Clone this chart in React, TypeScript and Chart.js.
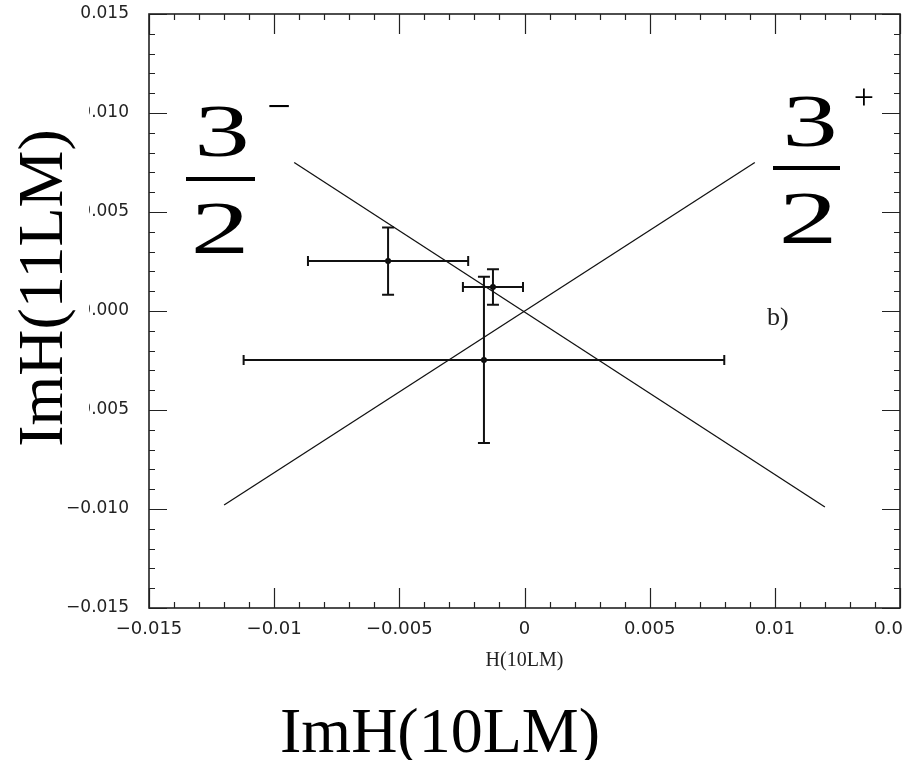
import React, { useEffect, useRef } from 'react';
import { Chart, registerables } from 'chart.js';

Chart.register(...registerables);

// ---- data ----
const pointX = [-0.00545, -0.00126, -0.00162];
const pointY = [0.00252, 0.00121, -0.00247];
const errX = [0.0032, 0.0012, 0.0096];
const errY = [0.0017, 0.0009, 0.0042];

// 3/2- band line (descending) and 3/2+ band line (ascending)
const lineMinusX = [-0.0092, 0.012];
const lineMinusY = [0.0075, -0.0099];
const linePlusX = [-0.012, 0.0092];
const linePlusY = [-0.0098, 0.0075];

const xTickValues = [-0.015, -0.01, -0.005, 0, 0.005, 0.01, 0.015];
const xTickLabels = ['\u22120.015', '\u22120.01', '\u22120.005', '0', '0.005', '0.01', '0.015'];
const yTickValues = [-0.015, -0.01, -0.005, 0, 0.005, 0.01, 0.015];
const yTickLabels = ['\u22120.015', '\u22120.010', '\u22120.005', '0.000', '0.005', '0.010', '0.015'];

const xAxisTitle = 'H(10LM)';
const bigXLabel = 'ImH(10LM)';
const bigYLabel = 'ImH(11LM)';
const panelLabel = 'b)';

const AXIS_MIN = -0.015;
const AXIS_MAX = 0.015;
const STEP = 0.001;

const isMajor = (v: number) => Math.round(v * 1000) % 5 === 0;

function labelFor(values: number[], labels: string[], v: number) {
  const k = Math.round(v * 1000);
  if (k % 5 !== 0) return '';
  const idx = values.findIndex((t) => Math.round(t * 1000) === k);
  return idx >= 0 ? labels[idx] : '';
}

const errorBarPlugin = {
  id: 'errorBars',
  afterDatasetsDraw(chart: any) {
    const { ctx, scales } = chart;
    const xs = scales.x;
    const ys = scales.y;
    ctx.save();
    ctx.strokeStyle = '#111';
    ctx.lineWidth = 2;
    for (let i = 0; i < pointX.length; i++) {
      const cx = xs.getPixelForValue(pointX[i]);
      const cy = ys.getPixelForValue(pointY[i]);
      const x0 = xs.getPixelForValue(pointX[i] - errX[i]);
      const x1 = xs.getPixelForValue(pointX[i] + errX[i]);
      const y0 = ys.getPixelForValue(pointY[i] + errY[i]);
      const y1 = ys.getPixelForValue(pointY[i] - errY[i]);
      ctx.beginPath();
      ctx.moveTo(x0, cy); ctx.lineTo(x1, cy);
      ctx.moveTo(x0, cy - 5); ctx.lineTo(x0, cy + 5);
      ctx.moveTo(x1, cy - 5); ctx.lineTo(x1, cy + 5);
      ctx.moveTo(cx, y0); ctx.lineTo(cx, y1);
      ctx.moveTo(cx - 6, y0); ctx.lineTo(cx + 6, y0);
      ctx.moveTo(cx - 6, y1); ctx.lineTo(cx + 6, y1);
      ctx.stroke();
    }
    ctx.restore();
  },
};

const framePlugin = {
  id: 'frameAndText',
  afterDraw(chart: any) {
    const { ctx, chartArea: a, scales } = chart;
    const xs = scales.x;
    const ys = scales.y;
    ctx.save();
    ctx.strokeStyle = '#222';
    ctx.lineWidth = 1.2;
    ctx.beginPath();
    xs.ticks.forEach((t: any) => {
      const px = Math.round(xs.getPixelForValue(t.value)) + 0.5;
      const len = isMajor(t.value) ? 20 : 6;
      ctx.moveTo(px, a.bottom); ctx.lineTo(px, a.bottom - len);
      ctx.moveTo(px, a.top); ctx.lineTo(px, a.top + len);
    });
    ys.ticks.forEach((t: any) => {
      const py = Math.round(ys.getPixelForValue(t.value)) + 0.5;
      const len = isMajor(t.value) ? 18 : 6;
      ctx.moveTo(a.left, py); ctx.lineTo(a.left + len, py);
      ctx.moveTo(a.right, py); ctx.lineTo(a.right - len, py);
    });
    ctx.stroke();
    ctx.lineWidth = 1.6;
    ctx.strokeRect(a.left, a.top, a.right - a.left, a.bottom - a.top);

    // the scan is cut just right of the frame: hide the tail of the last x label
    ctx.fillStyle = '#fff';
    ctx.fillRect(a.right + 2, a.bottom + 6, 20, 40);

    // panel label
    ctx.fillStyle = '#222';
    ctx.font = '26px "Liberation Serif"';
    ctx.textAlign = 'left';
    ctx.textBaseline = 'alphabetic';
    ctx.fillText(panelLabel, 767, 325);

    // overlay box of the big y label (hides left part of tick labels)
    ctx.fillStyle = '#fff';
    ctx.fillRect(0, 40, 89, 440);

    ctx.fillStyle = '#000';
    ctx.font = '64px "Liberation Serif"';
    ctx.textAlign = 'center';
    ctx.textBaseline = 'alphabetic';
    ctx.fillText(bigXLabel, 440, 752);

    ctx.save();
    ctx.translate(62, 288);
    ctx.rotate(-Math.PI / 2);
    ctx.fillText(bigYLabel, 0, 0);
    ctx.restore();

    // fraction labels 3/2- and 3/2+
    const drawFrac = (cx: number, base3: number, barY: number, base2: number, barL: number, barR: number, sup: string, supX: number, supY: number, supSize: number) => {
      ctx.save();
      ctx.font = '74px "Liberation Serif"';
      ctx.textAlign = 'center';
      ctx.save();
      ctx.translate(cx, base3);
      ctx.scale(1.5, 1);
      ctx.fillText('3', 0, 0);
      ctx.restore();
      ctx.save();
      ctx.translate(cx - 2, base2);
      ctx.scale(1.6, 1);
      ctx.fillText('2', 0, 0);
      ctx.restore();
      ctx.fillRect(barL, barY - 2, barR - barL, 4);
      ctx.font = supSize + 'px "Liberation Serif"';
      ctx.textBaseline = 'middle';
      ctx.fillText(sup, supX, supY);
      ctx.restore();
    };
    drawFrac(222, 156, 179, 253, 186, 255, '\u2212', 279, 109, 42);
    drawFrac(810, 146, 168, 243, 773, 840, '+', 864, 100, 36);
    ctx.restore();
  },
};

export default function App() {
  const ref = useRef<HTMLCanvasElement | null>(null);
  useEffect(() => {
    if (!ref.current) return;
    const tickFont = { family: '"DejaVu Sans"', size: 17 };
    const chart = new Chart(ref.current, {
      type: 'scatter',
      data: {
        datasets: [
          {
            label: '3/2-',
            data: lineMinusX.map((x, i) => ({ x, y: lineMinusY[i] })),
            showLine: true,
            borderColor: '#111',
            borderWidth: 1.3,
            pointRadius: 0,
          },
          {
            label: '3/2+',
            data: linePlusX.map((x, i) => ({ x, y: linePlusY[i] })),
            showLine: true,
            borderColor: '#111',
            borderWidth: 1.3,
            pointRadius: 0,
          },
          {
            label: 'data',
            data: pointX.map((x, i) => ({ x, y: pointY[i] })),
            pointRadius: 3,
            pointBackgroundColor: '#000',
            pointBorderColor: '#000',
            borderWidth: 0,
          },
        ],
      },
      options: {
        animation: false,
        responsive: true,
        maintainAspectRatio: false,
        layout: { padding: { left: 0, right: 7, top: 14, bottom: 87 } },
        plugins: { legend: { display: false }, tooltip: { enabled: false } },
        scales: {
          x: {
            type: 'linear',
            position: 'bottom',
            min: AXIS_MIN,
            max: AXIS_MAX,
            grid: { display: false, drawTicks: false },
            border: { display: false },
            ticks: {
              stepSize: STEP,
              autoSkip: false,
              maxRotation: 0,
              minRotation: 0,
              padding: 11,
              color: '#222',
              font: { family: '"DejaVu Sans"', size: 18 },
              callback: (v: any) => labelFor(xTickValues, xTickLabels, Number(v)),
            },
            title: {
              display: true,
              text: xAxisTitle,
              color: '#222',
              font: { family: '"Liberation Serif"', size: 20 },
              padding: { top: 0, bottom: 0 },
            },
            afterFit: (s: any) => {
              s.height = 65;
              s.paddingLeft = 0;
              s.paddingRight = 0;
            },
          },
          y: {
            type: 'linear',
            position: 'left',
            min: AXIS_MIN,
            max: AXIS_MAX,
            grid: { display: false, drawTicks: false },
            border: { display: false },
            ticks: {
              stepSize: STEP,
              autoSkip: false,
              padding: 20,
              color: '#222',
              font: tickFont,
              callback: (v: any) => labelFor(yTickValues, yTickLabels, Number(v)),
            },
            afterFit: (s: any) => {
              s.width = 149;
              s.paddingTop = 0;
              s.paddingBottom = 0;
            },
          },
        },
      } as any,
      plugins: [errorBarPlugin, framePlugin],
    });
    return () => chart.destroy();
  }, []);

  return (
    <div style={{ position: 'fixed', left: 0, top: 0, width: 907, height: 760, overflow: 'hidden', background: '#fff' }}>
      <canvas ref={ref} />
    </div>
  );
}
